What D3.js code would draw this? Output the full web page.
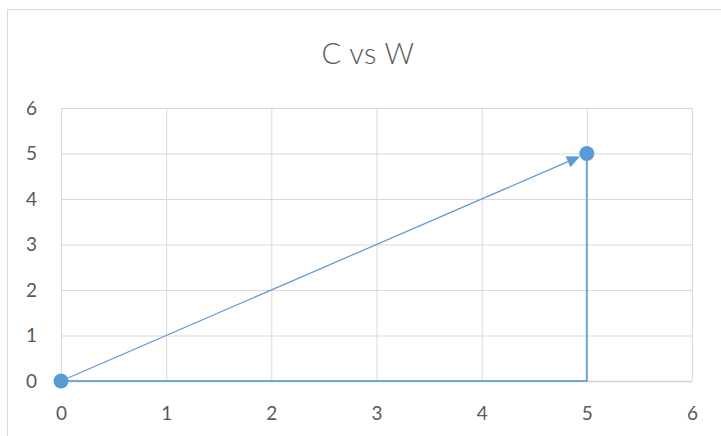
<!DOCTYPE html>
<html>
<head>
<meta charset="utf-8">
<script src="https://cdn.jsdelivr.net/npm/d3@7"></script>
<style>
  html, body { margin: 0; padding: 0; background: #fff; }
  svg { display: block; }
  text { font-family: Lato, "Open Sans", sans-serif; fill: #595959; }
</style>
</head>
<body>
<svg id="chart" width="721" height="436"></svg>
<script>
// Axis ticks
const xTicks = [0, 1, 2, 3, 4, 5, 6];
const yTicks = [0, 1, 2, 3, 4, 5, 6];

// Vector C vs W: straight series with arrow head
const vecX = [0, 5];
const vecY = [0, 5];

// Component path along the axes
const compX = [0, 5, 5];
const compY = [0, 0, 5];

const svg = d3.select("#chart");
const plot = { left: 61, right: 692, top: 108, bottom: 381 };

// Chart area border
svg.append("rect")
  .attr("x", 7.5).attr("y", 9.5)
  .attr("width", 900).attr("height", 900)
  .attr("fill", "#fff").attr("stroke", "#d9d9d9").attr("stroke-width", 1);

const x = d3.scaleLinear().domain([0, 6]).range([plot.left, plot.right]);
const y = d3.scaleLinear().domain([0, 6]).range([plot.bottom, plot.top]);

// Title
svg.append("text")
  .attr("x", 368).attr("y", 64)
  .attr("text-anchor", "middle")
  .style("font-size", "29px").style("font-weight", 300)
  .style("letter-spacing", "0.5px")
  .text("C vs W");

const tickFont = "19px";

// Vertical gridlines + x labels
const gx = svg.append("g")
  .attr("transform", `translate(0,${plot.bottom})`)
  .call(d3.axisBottom(x).tickValues(xTicks).tickFormat(d3.format("d"))
    .tickSize(-(plot.bottom - plot.top)).tickPadding(26));
gx.select(".domain").remove();
gx.selectAll(".tick line").attr("stroke", "#d9d9d9").attr("stroke-width", 1);
gx.selectAll(".tick text").style("font-size", tickFont).attr("fill", "#595959")
  .style("font-family", "Lato, 'Open Sans', sans-serif");

// Horizontal gridlines + y labels
const gy = svg.append("g")
  .attr("transform", `translate(${plot.left},0)`)
  .call(d3.axisLeft(y).tickValues(yTicks).tickFormat(d3.format("d"))
    .tickSize(-(plot.right - plot.left)).tickPadding(24));
gy.select(".domain").remove();
gy.selectAll(".tick line").attr("stroke", "#d9d9d9").attr("stroke-width", 1);
gy.selectAll(".tick text").style("font-size", tickFont).attr("fill", "#595959")
  .style("font-family", "Lato, 'Open Sans', sans-serif");

// Horizontal axis line
svg.append("line")
  .attr("x1", plot.left).attr("x2", plot.right)
  .attr("y1", plot.bottom + 0.5).attr("y2", plot.bottom + 0.5)
  .attr("stroke", "#d0d0d0").attr("stroke-width", 1.5);

const line = d3.line().x(d => x(d[0])).y(d => y(d[1]));

// Component path
svg.append("path")
  .datum(d3.zip(compX, compY))
  .attr("d", line)
  .attr("fill", "none")
  .attr("stroke", "#72a6db")
  .attr("stroke-width", 2);

// Vector with arrow head that stops at the end marker
const p0 = [x(vecX[0]), y(vecY[0])];
const p1 = [x(vecX[1]), y(vecY[1])];
const ang = Math.atan2(p1[1] - p0[1], p1[0] - p0[0]);
const markerR = 7.5;
const tip = [p1[0] - markerR * Math.cos(ang), p1[1] - markerR * Math.sin(ang)];
const headLen = 13, headHalf = 6;
const base = [tip[0] - headLen * Math.cos(ang), tip[1] - headLen * Math.sin(ang)];

svg.append("line")
  .attr("x1", p0[0]).attr("y1", p0[1])
  .attr("x2", base[0]).attr("y2", base[1])
  .attr("stroke", "#5b9bd5").attr("stroke-width", 1.25);

const nx = -Math.sin(ang), ny = Math.cos(ang);
svg.append("path")
  .attr("d", `M${tip[0]},${tip[1]}L${base[0] + nx * headHalf},${base[1] + ny * headHalf}L${base[0] - nx * headHalf},${base[1] - ny * headHalf}Z`)
  .attr("fill", "#5b9bd5");

// End markers
svg.selectAll("circle.pt")
  .data(d3.zip(vecX, vecY))
  .join("circle")
  .attr("class", "pt")
  .attr("cx", d => x(d[0])).attr("cy", d => y(d[1]))
  .attr("r", markerR)
  .attr("fill", "#5b9bd5");
</script>
</body>
</html>
